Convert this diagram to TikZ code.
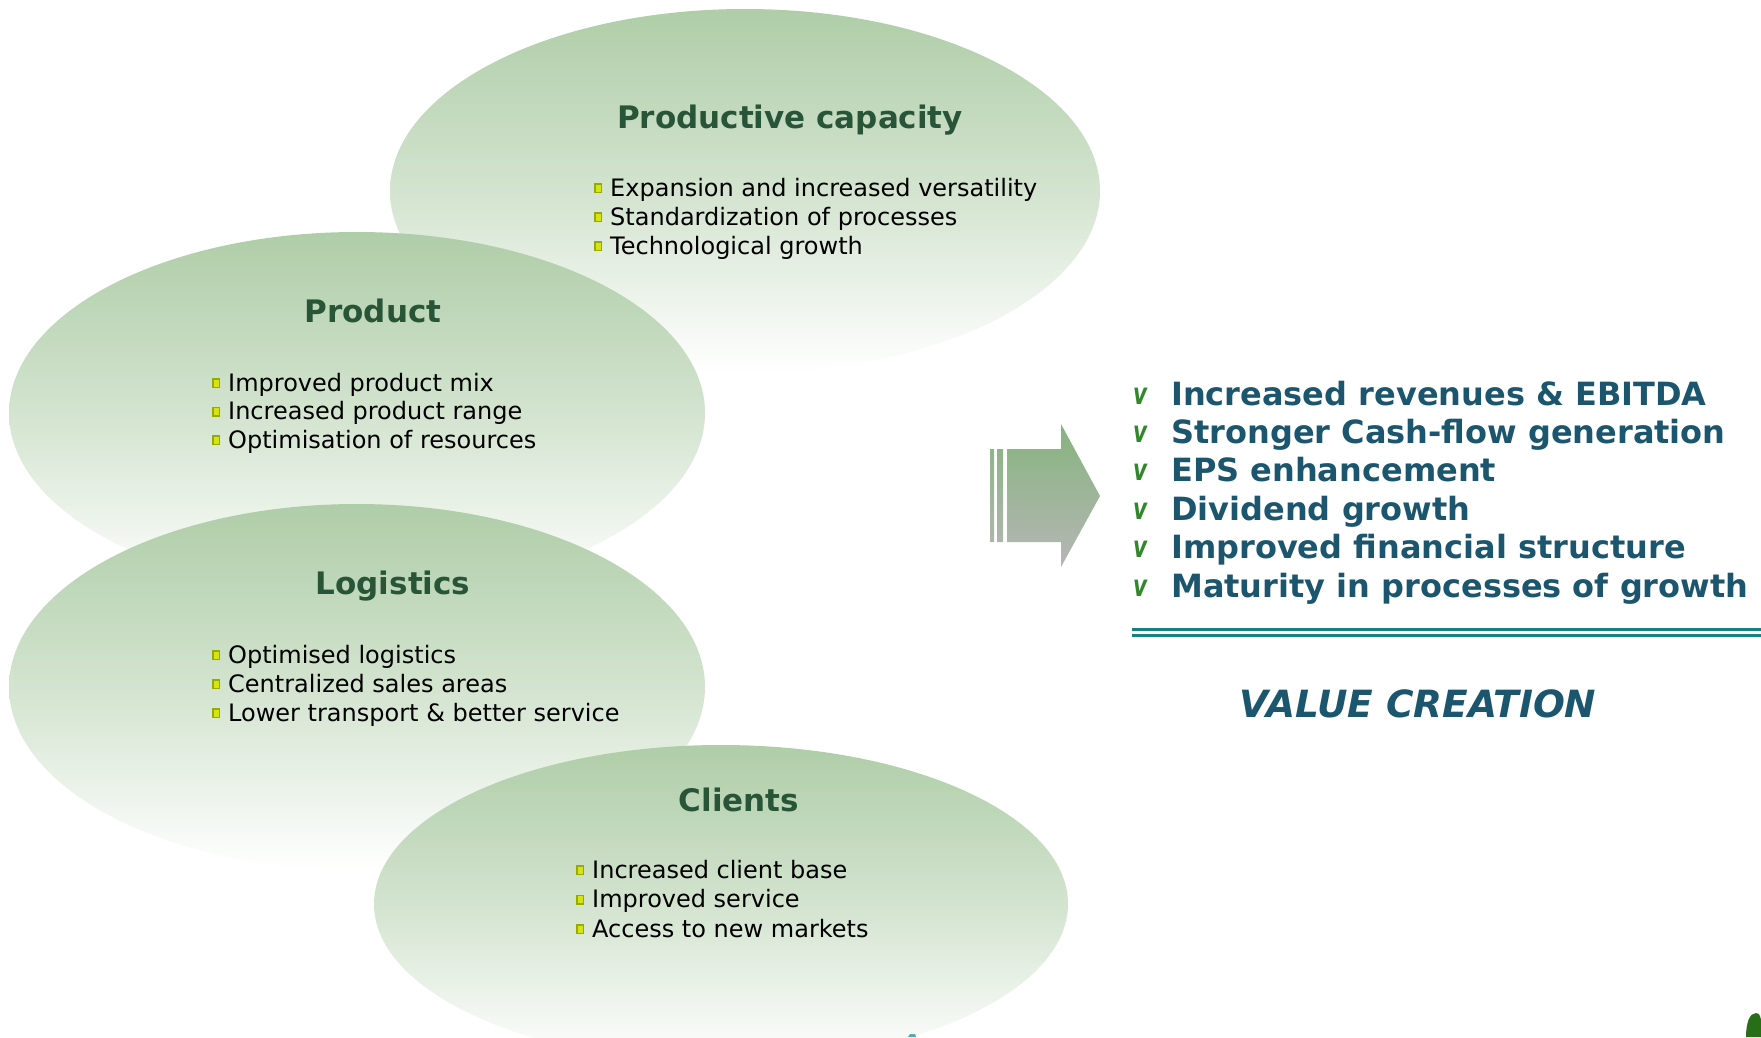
\documentclass[tikz,border=0pt]{standalone}
\usepackage{fontspec}
\usepackage{graphicx}
\setmainfont{DejaVu Sans}
\usetikzlibrary{shapes.geometric}

\definecolor{ellgreen}{RGB}{175,205,168}
\definecolor{headgreen}{RGB}{40,85,55}
\definecolor{valueblue}{RGB}{27,86,110}
\definecolor{ruleteal}{RGB}{20,130,130}
\definecolor{arrowgreen}{RGB}{134,180,126}
\definecolor{arrowgrey}{RGB}{182,182,182}
\definecolor{chkgreen}{RGB}{50,135,45}
\definecolor{bulletouter}{RGB}{150,170,0}
\definecolor{bulletinner}{RGB}{215,228,20}
\definecolor{leafgreen}{RGB}{40,110,25}

% small square bullet and check mark
\newcommand{\sqbullet}{\rlap{\textcolor{bulletouter}{\rule[3pt]{8pt}{10pt}}}%
  \hspace*{1.5pt}\textcolor{bulletinner}{\rule[4.5pt]{5pt}{7pt}}\hspace*{1.5pt}}
\newcommand{\chkmark}{\raisebox{1pt}{\scalebox{0.72}[1]{\textcolor{chkgreen}%
  {\fontsize{30}{30}\selectfont\bfseries\itshape v}}}}

\tikzset{
  oval/.style={ellipse, inner sep=0pt, top color=ellgreen, bottom color=white,
    middle color=ellgreen!55!white},
  heading/.style={anchor=base, inner sep=0pt, text=headgreen,
    font=\fontsize{31}{31}\selectfont\bfseries},
  item/.style={anchor=base west, inner sep=0pt,
    font=\fontsize{24}{29}\selectfont},
  gain/.style={anchor=base west, inner sep=0pt, text=valueblue,
    font=\fontsize{32}{38}\selectfont\bfseries},
}

\begin{document}
\begin{tikzpicture}[x=1pt,y=-1pt]
\useasboundingbox (0,0) rectangle (1761,1037);
\clip (0,0) rectangle (1761,1037);

% the four ovals, back to front
\node[oval, minimum width=710pt, minimum height=364pt] (capacity) at (745,191) {};
\node[oval, minimum width=696pt, minimum height=362pt] (product) at (357,413) {};
\node[oval, minimum width=696pt, minimum height=366pt] (logistics) at (357,687) {};
\node[oval, minimum width=694pt, minimum height=318pt] (clients) at (721,904) {};

% headings
\node[heading] (capacity-title) at (790,128) {Productive capacity};
\node[heading] (product-title) at (373,322) {Product};
\node[heading] (logistics-title) at (393,594) {Logistics};
\node[heading] (clients-title) at (739,811) {Clients};

% bullet lists
\foreach \t [count=\i] in {Expansion and increased versatility,
    Standardization of processes, Technological growth}
  \node[item] (capacity-\i) at (594,{196+29*(\i-1)}) {\sqbullet\hspace{8pt}\t};
\foreach \t [count=\i] in {Improved product mix, Increased product range,
    Optimisation of resources}
  \node[item] (product-\i) at (212,{391+28.5*(\i-1)}) {\sqbullet\hspace{8pt}\t};
\foreach \t [count=\i] in {Optimised logistics, Centralized sales areas,
    Lower transport \& better service}
  \node[item] (logistics-\i) at (212,{663+29*(\i-1)}) {\sqbullet\hspace{8pt}\t};
\foreach \t [count=\i] in {Increased client base, Improved service,
    Access to new markets}
  \node[item] (clients-\i) at (576,{878+29.5*(\i-1)}) {\sqbullet\hspace{8pt}\t};

% arrow with the three strips
\shade[top color=arrowgreen, bottom color=arrowgrey]
  (990,449) rectangle (994,542)
  (997,449) rectangle (1003,542)
  (1007,449) -- (1061,449) -- (1061,424) -- (1100,496)
  -- (1061,567) -- (1061,542) -- (1007,542) -- cycle;

% results
\foreach \t [count=\i] in {Increased revenues \& EBITDA,
    Stronger Cash-flow generation, EPS enhancement, Dividend growth,
    Improved financial structure, Maturity in processes of growth}
  \node[gain] (gain-\i) at (1133,{405+38.4*(\i-1)})
    {\makebox[38pt][l]{\chkmark}\t};

\draw[ruleteal, line width=3pt] (1132,629) -- (1761,629);
\draw[ruleteal, line width=3pt] (1132,635) -- (1761,635);

\node[anchor=base, inner sep=0pt, text=valueblue,
  font=\fontsize{37.5}{37.5}\selectfont\bfseries\itshape] (value) at (1418,717)
  {VALUE CREATION};

% pieces at the lower edge
\fill[leafgreen] (1746,1037) .. controls (1746,1022) and (1750,1013) .. (1756,1013)
  .. controls (1760,1013) and (1761,1018) .. (1761,1022) -- (1761,1037) -- cycle;
\fill[ruleteal!70!white] (908,1037) -- (910,1034) -- (915,1034) -- (916,1037) -- cycle;
\end{tikzpicture}
\end{document}
